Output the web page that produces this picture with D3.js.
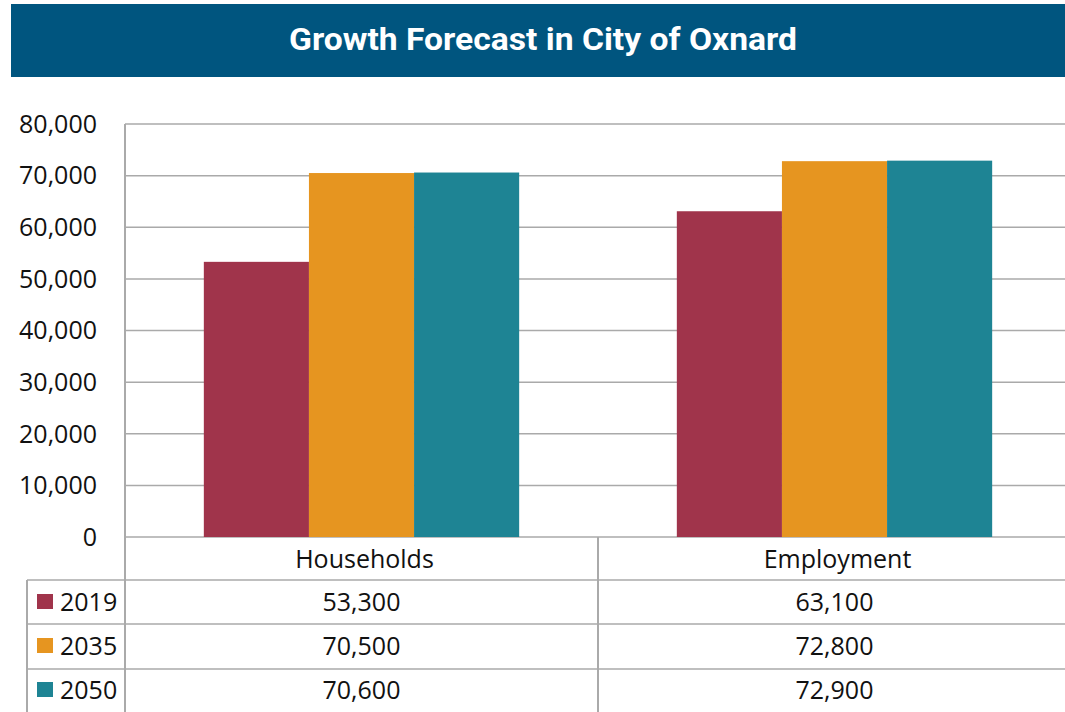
<!DOCTYPE html>
<html lang="en">
<head>
  <meta charset="UTF-8">
  <title>Growth Forecast in City of Oxnard</title>
  <style>
    body {
      margin: 0;
      background: #fff;
      overflow: hidden;
    }
    text {
      font-family: "Open Sans", sans-serif;
      fill: #111;
    }
  </style>
</head>
<body>
  <svg width="1065" height="712"></svg>

  <script src="https://d3js.org/d3.v7.min.js"></script>
  <script>
    // chart data
    const categories = ["Households", "Employment"];
    const years = ["2019", "2035", "2050"];
    const values2019 = [53300, 63100];
    const values2035 = [70500, 72800];
    const values2050 = [70600, 72900];
    const yTicks = [0, 10000, 20000, 30000, 40000, 50000, 60000, 70000, 80000];
    const colors = ["#a0344b", "#e69520", "#1e8494"];

    const series = [values2019, values2035, values2050];

    const svg = d3.select("svg");
    const width = +svg.attr("width");

    // the plot runs a little past the right edge of the page
    const plotLeft = 125, plotRight = 1071, plotTop = 124, plotBottom = 537;
    const rowH = 44;
    const gridColor = "#aaaaaa";
    const fmt = d3.format(",");

    // title banner
    svg.append("rect")
      .attr("x", 11).attr("y", 4)
      .attr("width", width - 11).attr("height", 73)
      .attr("fill", "#00557f");
    svg.append("text")
      .attr("x", 543).attr("y", 42)
      .attr("text-anchor", "middle")
      .attr("dominant-baseline", "middle")
      .attr("textLength", 508)
      .attr("lengthAdjust", "spacingAndGlyphs")
      .style("font-family", "Roboto, sans-serif")
      .style("font-weight", 700)
      .style("font-size", "32px")
      .style("fill", "#fff")
      .text("Growth Forecast in City of Oxnard");

    const x0 = d3.scaleBand().domain(categories).range([plotLeft, plotRight]);
    const x1 = d3.scaleBand().domain(years).range([0, x0.bandwidth()])
      .paddingInner(0).paddingOuter(0.75);
    const y = d3.scaleLinear().domain([0, 80000]).range([plotBottom, plotTop]);

    // gridlines
    svg.append("g")
      .selectAll("line")
      .data(yTicks)
      .join("line")
      .attr("x1", plotLeft).attr("x2", plotRight)
      .attr("y1", d => y(d)).attr("y2", d => y(d))
      .attr("stroke", gridColor)
      .attr("stroke-width", 1.5);

    // y labels
    svg.append("g")
      .selectAll("text")
      .data(yTicks)
      .join("text")
      .attr("x", 97)
      .attr("y", d => y(d))
      .attr("dy", "0.35em")
      .attr("text-anchor", "end")
      .style("font-size", "25px")
      .text(d => fmt(d));

    // bars
    const groups = svg.append("g")
      .selectAll("g")
      .data(categories)
      .join("g")
      .attr("transform", d => `translate(${x0(d)},0)`);

    groups.selectAll("rect")
      .data((c, ci) => years.map((yr, si) => ({ yr, si, v: series[si][ci] })))
      .join("rect")
      .attr("x", d => x1(d.yr))
      .attr("width", x1.bandwidth())
      .attr("y", d => y(d.v))
      .attr("height", d => plotBottom - y(d.v))
      .attr("fill", d => colors[d.si]);

    // data table
    const table = svg.append("g");
    const rowLines = [plotBottom + rowH - 1, plotBottom + 2 * rowH - 1, plotBottom + 3 * rowH];
    table.selectAll(".hline")
      .data(rowLines)
      .join("line")
      .attr("x1", 27).attr("x2", plotRight)
      .attr("y1", d => d).attr("y2", d => d)
      .attr("stroke", gridColor).attr("stroke-width", 1.5);

    table.append("line")
      .attr("x1", plotLeft).attr("x2", plotLeft)
      .attr("y1", plotTop).attr("y2", 712)
      .attr("stroke", gridColor).attr("stroke-width", 2);
    table.append("line")
      .attr("x1", 27).attr("x2", 27)
      .attr("y1", rowLines[0]).attr("y2", 712)
      .attr("stroke", gridColor).attr("stroke-width", 2);
    table.append("line")
      .attr("x1", x0("Employment")).attr("x2", x0("Employment"))
      .attr("y1", plotBottom).attr("y2", 712)
      .attr("stroke", gridColor).attr("stroke-width", 2);

    // header
    table.selectAll(".cat")
      .data(categories)
      .join("text")
      .attr("class", "cat")
      .attr("x", d => x0(d) + x0.bandwidth() / 2 + 3)
      .attr("y", plotBottom + 22)
      .attr("dy", "0.35em")
      .attr("text-anchor", "middle")
      .style("font-size", "25px")
      .text(d => d);

    // rows
    years.forEach((yr, si) => {
      const cy = plotBottom + rowH * (si + 1) + 21;
      table.append("rect")
        .attr("x", 37).attr("y", cy - 8)
        .attr("width", 16).attr("height", 15)
        .attr("fill", colors[si]);
      table.append("text")
        .attr("x", 60).attr("y", cy)
        .attr("dy", "0.35em")
        .style("font-size", "25px")
        .text(yr);
      table.selectAll(".v" + si)
        .data(categories)
        .join("text")
        .attr("class", "v" + si)
        .attr("x", d => x0(d) + x0.bandwidth() / 2)
        .attr("y", cy)
        .attr("dy", "0.35em")
        .attr("text-anchor", "middle")
        .style("font-size", "25px")
        .text((d, ci) => fmt(series[si][ci]));
    });
  </script>
</body>
</html>
